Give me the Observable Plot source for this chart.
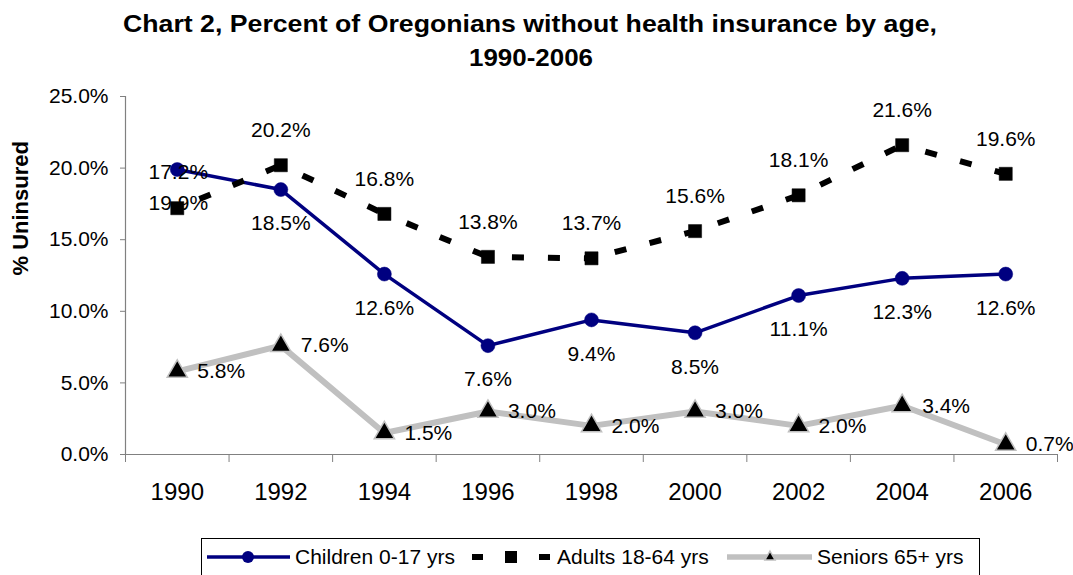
<!DOCTYPE html>
<html><head><meta charset="utf-8">
<script src="https://cdn.jsdelivr.net/npm/d3@7"></script>
<script src="https://cdn.jsdelivr.net/npm/@observablehq/plot@0.6"></script>
<style>
body{margin:0;background:#fff;font-family:Arial,"Liberation Sans",sans-serif;}
#wrap{width:1073px;height:575px;position:relative;overflow:hidden;background:#fff;}
#wrap > *{position:absolute;left:0;}
</style></head><body><div id="wrap"></div>
<script>
const years = [1990, 1992, 1994, 1996, 1998, 2000, 2002, 2004, 2006];
const children = [19.9, 18.5, 12.6, 7.6, 9.4, 8.5, 11.1, 12.3, 12.6];
const adults = [17.2, 20.2, 16.8, 13.8, 13.7, 15.6, 18.1, 21.6, 19.6];
const seniors = [5.8, 7.6, 1.5, 3.0, 2.0, 3.0, 2.0, 3.4, 0.7];
// data labels as printed in the original (1990 labels of children/adults appear swapped)
const childrenLabels = [17.2, 18.5, 12.6, 7.6, 9.4, 8.5, 11.1, 12.3, 12.6];
const adultsLabels = [19.9, 20.2, 16.8, 13.8, 13.7, 15.6, 18.1, 21.6, 19.6];
const seniorsLabels = [5.8, 7.6, 1.5, 3.0, 2.0, 3.0, 2.0, 3.4, 0.7];
const yTicks = [0, 5, 10, 15, 20, 25];
const seriesNames = ["Children 0-17 yrs", "Adults 18-64 yrs", "Seniors 65+ yrs"];
const titleLines = ["Chart 2, Percent of Oregonians without health insurance by age,", "1990-2006"];
const yLabel = "% Uninsured";

const NAVY = "#000080", GRAY = "#c0c0c0", AXIS = "#808080";
const FONT = "Arial, 'Liberation Sans', sans-serif";
const pct = v => v.toFixed(1) + "%";

const rows = years.map((year, i) => ({
  year, children: children[i], adults: adults[i], seniors: seniors[i], i
}));
const adultSegs = rows.slice(0, -1).map((d, i) => ({x1: d.year, y1: d.adults, x2: rows[i + 1].year, y2: rows[i + 1].adults}));
const step = years[1] - years[0];
const boundaries = [...years.map(y => y - step / 2), years[years.length - 1] + step / 2];

const wrap = document.getElementById("wrap");

// Title
const tsvg = d3.create("svg").attr("width", 1073).attr("height", 80).style("top", "0px")
  .attr("font-family", FONT);
tsvg.append("text").attr("x", 530).attr("y", 32).attr("text-anchor", "middle")
  .attr("font-size", 24).attr("font-weight", "bold")
  .attr("textLength", 814).attr("lengthAdjust", "spacingAndGlyphs").text(titleLines[0]);
tsvg.append("text").attr("x", 531).attr("y", 66).attr("text-anchor", "middle")
  .attr("font-size", 24).attr("font-weight", "bold")
  .attr("textLength", 124).attr("lengthAdjust", "spacingAndGlyphs").text(titleLines[1]);
wrap.appendChild(tsvg.node());

// Chart
const chart = Plot.plot({
  width: 1073, height: 450,
  marginTop: 16, marginBottom: 76, marginLeft: 125, marginRight: 16,
  x: {type: "linear", domain: [boundaries[0], boundaries[boundaries.length - 1]]},
  y: {domain: [0, 25]},
  style: {fontFamily: FONT, fontSize: "21px", background: "white", color: "black", overflow: "visible"},
  marks: [
    Plot.axisY({ticks: yTicks, tickFormat: pct, tickSize: 5, tickPadding: 12, fontSize: 21, stroke: AXIS, fill: "black", label: null}),
    Plot.axisX({ticks: boundaries, tickSize: 8, tickFormat: () => "", stroke: AXIS, label: null}),
    Plot.axisX({ticks: years, tickSize: 0, tickPadding: 28, fontSize: 24, tickFormat: d => String(d), fill: "black", label: null}),
    Plot.ruleX([boundaries[0]], {y1: 0, y2: 25, stroke: AXIS, strokeWidth: 1.2}),
    Plot.ruleY([0], {stroke: AXIS, strokeWidth: 1.2}),
    Plot.text([yLabel], {frameAnchor: "left", rotate: -90, dx: -105, fontWeight: "bold", fontSize: 22, fill: "black"}),
    // lines
    Plot.line(rows, {x: "year", y: "children", stroke: NAVY, strokeWidth: 3.5}),
    Plot.link(adultSegs, {x1: "x1", y1: "y1", x2: "x2", y2: "y2", stroke: "black", strokeWidth: 6, strokeDasharray: "12,24", strokeDashoffset: -24, strokeLinecap: "butt"}),
    Plot.line(rows, {x: "year", y: "seniors", stroke: GRAY, strokeWidth: 6}),
    // markers
    Plot.dot(rows, {x: "year", y: "children", r: 7, fill: NAVY, stroke: NAVY, strokeWidth: 0.5}),
    Plot.dot(rows, {x: "year", y: "adults", symbol: "square", r: 7.4, fill: "black", stroke: "black", strokeWidth: 0.5}),
    Plot.dot(rows, {x: "year", y: "seniors", symbol: "triangle", r: 7.5, fill: "black", stroke: GRAY, strokeWidth: 1.5}),
    // data labels
    Plot.text(rows, {filter: d => d.i > 0, x: "year", y: "children", text: d => pct(childrenLabels[d.i]), dy: 34, fontSize: 21, fill: "black"}),
    Plot.text(rows, {filter: d => d.i === 0, x: "year", y: "children", text: d => pct(childrenLabels[d.i]), dy: 3, dx: 1, fontSize: 21, fill: "black"}),
    Plot.text(rows, {filter: d => d.i > 0, x: "year", y: "adults", text: d => pct(adultsLabels[d.i]), dy: -35, fontSize: 21, fill: "black"}),
    Plot.text(rows, {filter: d => d.i === 0, x: "year", y: "adults", text: d => pct(adultsLabels[d.i]), dy: -5, dx: 1, fontSize: 21, fill: "black"}),
    Plot.text(rows, {x: "year", y: "seniors", text: d => pct(seniorsLabels[d.i]), dx: 20, textAnchor: "start", fontSize: 21, fill: "black"})
  ]
});
chart.style.top = "80px";
wrap.appendChild(chart);

// Legend
const lsvg = d3.create("svg").attr("width", 1073).attr("height", 45).style("top", "530px")
  .attr("font-family", FONT);
lsvg.append("rect").attr("x", 201.5).attr("y", 8.5).attr("width", 778).attr("height", 50)
  .attr("fill", "white").attr("stroke", "black").attr("stroke-width", 1);
const ly = 27;
lsvg.append("line").attr("x1", 207).attr("x2", 290).attr("y1", ly).attr("y2", ly).attr("stroke", NAVY).attr("stroke-width", 3.5);
lsvg.append("circle").attr("cx", 248).attr("cy", ly).attr("r", 6).attr("fill", NAVY);
lsvg.append("text").attr("x", 295).attr("y", ly + 7).attr("font-size", 21).text(seriesNames[0]);
lsvg.append("line").attr("x1", 472).attr("x2", 550).attr("y1", ly).attr("y2", ly).attr("stroke", "black").attr("stroke-width", 6).attr("stroke-dasharray", "11,56");
lsvg.append("rect").attr("x", 505).attr("y", ly - 6).attr("width", 12).attr("height", 12).attr("fill", "black");
lsvg.append("text").attr("x", 557).attr("y", ly + 7).attr("font-size", 21).text(seriesNames[1]);
lsvg.append("line").attr("x1", 727).attr("x2", 812).attr("y1", ly).attr("y2", ly).attr("stroke", GRAY).attr("stroke-width", 5.5);
lsvg.append("path").attr("d", d3.symbol(d3.symbolTriangle, 45)()).attr("transform", `translate(770,${ly})`).attr("fill", "black").attr("stroke", GRAY).attr("stroke-width", 1.5);
lsvg.append("text").attr("x", 817).attr("y", ly + 7).attr("font-size", 21).text(seriesNames[2]);
wrap.appendChild(lsvg.node());
</script>
</body></html>
